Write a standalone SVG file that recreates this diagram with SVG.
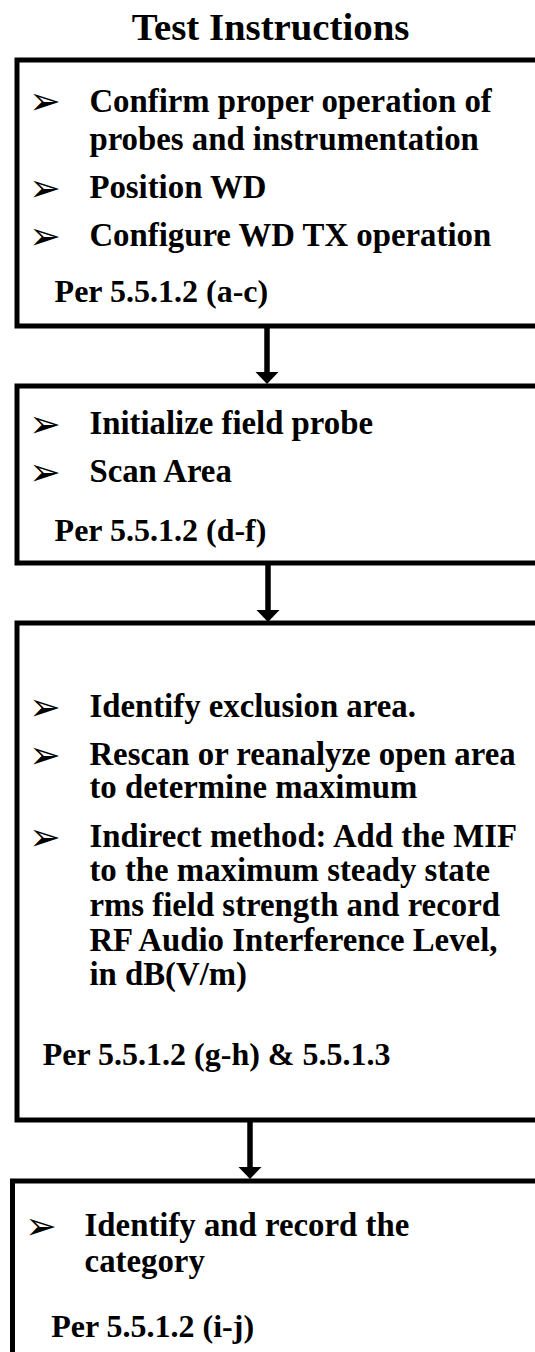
<svg xmlns="http://www.w3.org/2000/svg" width="535" height="1352" viewBox="0 0 535 1352">
<style>
.box{fill:#fff;stroke:#000;stroke-width:5}
.t{font-family:"Liberation Serif","Times New Roman",serif;font-weight:bold;font-size:32.8px;fill:#000}
.per{font-family:"Liberation Serif","Times New Roman",serif;font-weight:bold;font-size:32px;fill:#000}
.title{font-family:"Liberation Serif","Times New Roman",serif;font-weight:bold;font-size:38.8px;fill:#000;text-anchor:middle}
.b{font-family:"DejaVu Sans",sans-serif;font-size:38px;fill:#000}
.ln{stroke:#000;stroke-width:5.5;fill:none}
.ah{fill:#000}
</style>
<rect width="535" height="1352" fill="#fff"/>
<text class="title" x="270.5" y="40">Test Instructions</text>
<g id="node1">
<rect class="box" x="17" y="60" width="540" height="266"/>
<text class="b" x="29" y="114">➢</text>
<text class="t" x="89.4" y="111.6">Confirm proper operation of</text>
<text class="t" x="89.4" y="149.5">probes and instrumentation</text>
<text class="b" x="29" y="201">➢</text>
<text class="t" x="89.4" y="198">Position WD</text>
<text class="b" x="29" y="249">➢</text>
<text class="t" x="89.4" y="245.7">Configure WD TX operation</text>
<text class="per" x="54.6" y="302">Per 5.5.1.2 (a-c)</text>
</g>
<g id="node2">
<rect class="box" x="17" y="386" width="540" height="177"/>
<text class="b" x="29" y="437">➢</text>
<text class="t" x="89.4" y="433.9">Initialize field probe</text>
<text class="b" x="29" y="485">➢</text>
<text class="t" x="89.4" y="481.6">Scan Area</text>
<text class="per" x="54.6" y="541">Per 5.5.1.2 (d-f)</text>
</g>
<g id="node3">
<rect class="box" x="17" y="623" width="540" height="497"/>
<text class="b" x="29" y="720">➢</text>
<text class="t" x="89.4" y="716.8">Identify exclusion area.</text>
<text class="b" x="29" y="768">➢</text>
<text class="t" x="89.4" y="764.6">Rescan or reanalyze open area</text>
<text class="t" x="89.4" y="797.7">to determine maximum</text>
<text class="b" x="29" y="850">➢</text>
<text class="t" x="89.4" y="846.5">Indirect method: Add the MIF</text>
<text class="t" x="89.4" y="880.6">to the maximum steady state</text>
<text class="t" x="89.4" y="915.8">rms field strength and record</text>
<text class="t" x="89.4" y="950.6">RF Audio Interference Level,</text>
<text class="t" x="89.4" y="984.7">in dB(V/m)</text>
<text class="per" x="42.7" y="1064.8">Per 5.5.1.2 (g-h) &amp; 5.5.1.3</text>
</g>
<g id="node4">
<rect class="box" x="12.5" y="1181" width="545" height="200"/>
<text class="b" x="25" y="1239">➢</text>
<text class="t" x="84.6" y="1235.5">Identify and record the</text>
<text class="t" x="84.6" y="1272">category</text>
<text class="per" x="51.2" y="1337">Per 5.5.1.2 (i-j)</text>
</g>
<g id="connectors">
<line class="ln" x1="267" y1="326" x2="267" y2="374"/>
<polygon class="ah" points="255.5,372 278.5,372 267,384"/>
<line class="ln" x1="268" y1="563" x2="268" y2="611"/>
<polygon class="ah" points="256.5,610 279.5,610 268,622"/>
<line class="ln" x1="250" y1="1120" x2="250" y2="1169"/>
<polygon class="ah" points="238.5,1167 261.5,1167 250,1179"/>
</g>
</svg>
